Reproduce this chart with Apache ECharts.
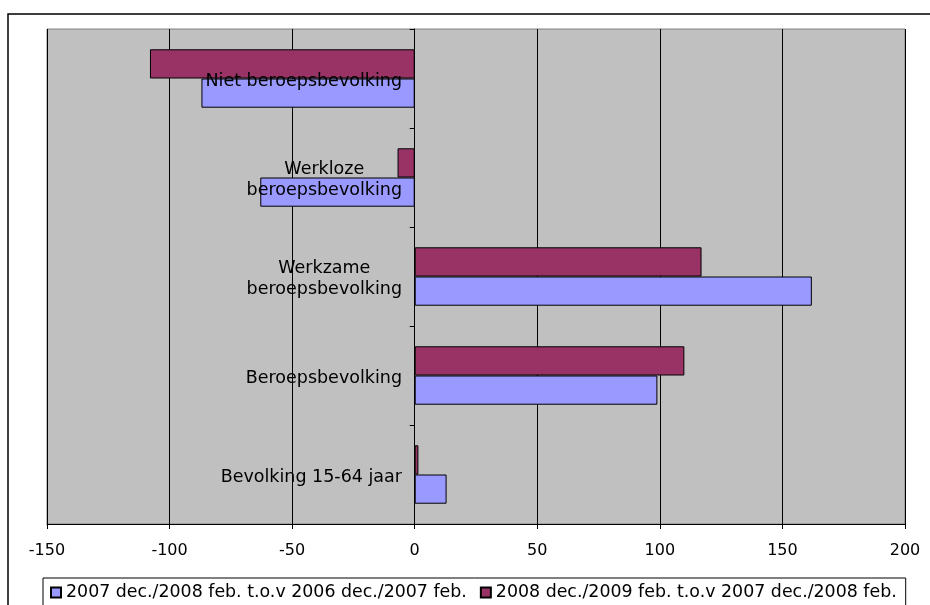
<!DOCTYPE html>
<html>
<head>
<meta charset="utf-8">
<script src="https://cdn.jsdelivr.net/npm/echarts@6/dist/echarts.min.js"></script>
<style>
html,body{margin:0;padding:0;background:#fff;}
#chart{width:930px;height:605px;}
</style>
</head>
<body>
<div id="chart"></div>
<script>
const categories = ['Bevolking 15-64 jaar', 'Beroepsbevolking', 'Werkzame\nberoepsbevolking', 'Werkloze\nberoepsbevolking', 'Niet beroepsbevolking'];
const seriesNames = ['2007 dec./2008 feb. t.o.v 2006 dec./2007 feb.', '2008 dec./2009 feb. t.o.v 2007 dec./2008 feb.'];
const values2007 = [13, 99, 162, -63, -87];
const values2008 = [1.5, 110, 117, -7, -108];
const xTicks = [-150, -100, -50, 0, 50, 100, 150, 200];

const FONT = 'DejaVu Sans';
const chart = echarts.init(document.getElementById('chart'));
chart.setOption({
  backgroundColor: '#ffffff',
  animation: false,
  graphic: [{
    type: 'rect',
    shape: { x: 8, y: 14, width: 1000, height: 1000 },
    style: { fill: 'none', stroke: '#000', lineWidth: 1.5 },
    z: -10, silent: true
  }],
  grid: {
    left: 47, top: 29, right: 25, bottom: 81,
    show: true, backgroundColor: '#C0C0C0', borderColor: '#808080', borderWidth: 1,
    containLabel: false,
    outerBoundsMode: 'none'
  },
  legend: {
    left: 43, top: 578,
    padding: [6, 9, 30, 7],
    itemGap: 13,
    itemWidth: 10, itemHeight: 10,
    icon: 'rect',
    borderColor: '#000', borderWidth: 1,
    data: seriesNames,
    textStyle: { fontFamily: FONT, fontSize: 17.4, color: '#000' }
  },
  xAxis: {
    type: 'value',
    min: xTicks[0], max: xTicks[xTicks.length - 1], interval: 50,
    axisLine: { show: true, lineStyle: { color: '#000', width: 1 } },
    axisTick: { show: true, length: 5, lineStyle: { color: '#000' } },
    axisLabel: { fontFamily: FONT, fontSize: 16, color: '#000', margin: 19 },
    splitLine: { show: true, lineStyle: { color: '#000', width: 1 } }
  },
  yAxis: {
    type: 'category',
    data: categories,
    z: 5,
    axisLine: { show: true, onZero: true, lineStyle: { color: '#000', width: 1 } },
    axisTick: { show: true, length: 5, inside: false, lineStyle: { color: '#000' } },
    axisLabel: {
      margin: -355,
      color: '#000',
      padding: [5, 0, 0, 0],
      formatter: function (v) { return v.split('\n').map(s => '{c|' + s + '}').join('\n'); },
      rich: { c: { align: 'center', fontFamily: FONT, fontSize: 17.5, color: '#000', lineHeight: 21 } }
    },
    splitLine: { show: false }
  },
  series: [
    {
      name: seriesNames[1], type: 'bar', data: values2008,
      barGap: '0%', barCategoryGap: '41%',
      itemStyle: { color: '#993366', borderColor: '#000', borderWidth: 1 }
    },
    {
      name: seriesNames[0], type: 'bar', data: values2007,
      barGap: '0%', barCategoryGap: '41%',
      itemStyle: { color: '#9999FF', borderColor: '#000', borderWidth: 1 }
    }
  ]
});
</script>
</body>
</html>
